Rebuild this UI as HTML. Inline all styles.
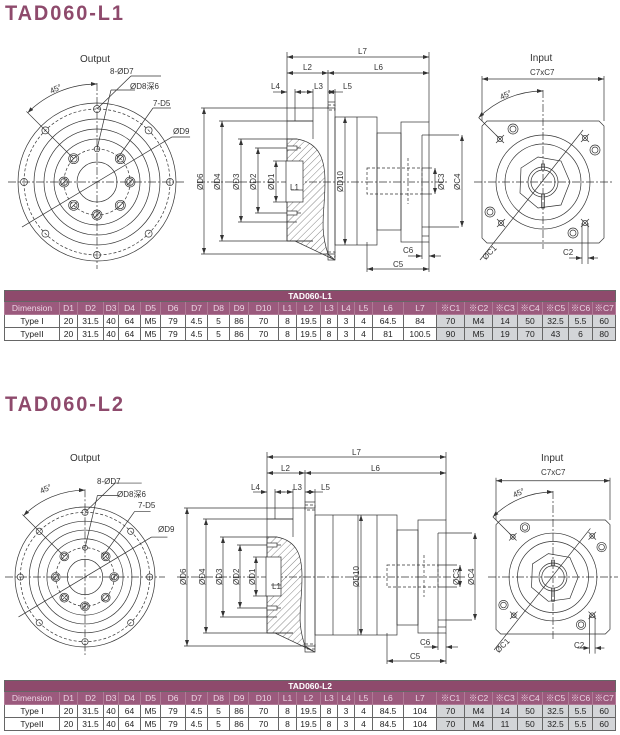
<!DOCTYPE html>
<html><head><meta charset="utf-8"><style>
body{margin:0;background:#fff;width:620px;height:735px;overflow:hidden;position:relative;font-family:"Liberation Sans","Noto Sans CJK SC",sans-serif}
.t{position:absolute;left:5px;font:bold 21px "Liberation Sans",sans-serif;color:#8e4a6c;letter-spacing:2px;transform:scaleX(0.95);transform-origin:left}
svg{position:absolute;left:0;top:0}
svg text{font-family:"Liberation Sans","Noto Sans CJK SC",sans-serif;fill:#333;font-size:8px}
table{position:absolute;left:4px;width:610px;border-collapse:collapse;table-layout:fixed;font-size:8.5px;text-align:center}
td{border:1px solid #666;padding:0;height:12px;line-height:11px;color:#222;white-space:nowrap;overflow:hidden}
tr.h1 td{background:#8e4a6c;color:#fff;font-weight:bold;height:10px;line-height:10px}
tr.h2 td{background:#9b5a7d;color:#ecd3e2;border-color:#b07a96}
td.g{background:#d3d5d8}
</style></head><body>
<div class="t" style="top:2px">TAD060-L1</div>
<div class="t" style="top:393px">TAD060-L2</div>
<svg id="s" width="620" height="735" viewBox="0 0 620 735">
<defs>
<marker id="a" markerWidth="6" markerHeight="4" refX="6" refY="2" orient="auto-start-reverse" markerUnits="userSpaceOnUse"><path d="M0,0L6,2L0,4z" fill="#333"/></marker>
<pattern id="hp" width="5" height="5" patternUnits="userSpaceOnUse" patternTransform="rotate(45)"><line x1="0" y1="0" x2="0" y2="5" stroke="#333" stroke-width="0.6"/></pattern>
</defs>
<g id="g" fill="none" stroke="#333" stroke-width="0.7"></g>
<text x="80" y="62" style="font-size:10px">Output</text>
<text x="110" y="74">8-ØD7</text>
<text x="130" y="89">ØD8深6</text>
<text x="153" y="106">7-D5</text>
<text x="173" y="134">ØD9</text>
<text x="50" y="92" transform="rotate(-25 55 90)">45°</text>
<text x="358" y="54">L7</text>
<text x="303" y="70">L2</text>
<text x="374" y="70">L6</text>
<text x="271" y="89">L4</text>
<text x="314" y="89">L3</text>
<text x="343" y="89">L5</text>
<text x="290" y="190">L1</text>
<text transform="translate(203,190) rotate(-90)">ØD6</text>
<text transform="translate(220,190) rotate(-90)">ØD4</text>
<text transform="translate(239,190) rotate(-90)">ØD3</text>
<text transform="translate(256,190) rotate(-90)">ØD2</text>
<text transform="translate(274,190) rotate(-90)">ØD1</text>
<text transform="translate(343,192) rotate(-90)">ØD10</text>
<text transform="translate(444,190) rotate(-90)">ØC3</text>
<text transform="translate(460,190) rotate(-90)">ØC4</text>
<text x="403" y="253">C6</text>
<text x="393" y="267">C5</text>
<text x="530" y="61" style="font-size:10px">Input</text>
<text x="530" y="75">C7xC7</text>
<text x="500" y="98" transform="rotate(-25 505 96)">45°</text>
<text x="483" y="258" transform="rotate(-45 487 256)">ØC1</text>
<text x="563" y="255">C2</text>
<text x="70" y="461" style="font-size:10px">Output</text>
<text x="97" y="484">8-ØD7</text>
<text x="117" y="497">ØD8深6</text>
<text x="138" y="508">7-D5</text>
<text x="158" y="532">ØD9</text>
<text x="40" y="492" transform="rotate(-25 45 490)">45°</text>
<text x="352" y="455">L7</text>
<text x="281" y="471">L2</text>
<text x="371" y="471">L6</text>
<text x="251" y="490">L4</text>
<text x="293" y="490">L3</text>
<text x="321" y="490">L5</text>
<text x="272" y="589">L1</text>
<text transform="translate(186,585) rotate(-90)">ØD6</text>
<text transform="translate(205,585) rotate(-90)">ØD4</text>
<text transform="translate(222,585) rotate(-90)">ØD3</text>
<text transform="translate(239,585) rotate(-90)">ØD2</text>
<text transform="translate(255,585) rotate(-90)">ØD1</text>
<text transform="translate(359,587) rotate(-90)">ØD10</text>
<text transform="translate(459,585) rotate(-90)">ØC3</text>
<text transform="translate(474,585) rotate(-90)">ØC4</text>
<text x="420" y="645">C6</text>
<text x="410" y="659">C5</text>
<text x="541" y="461" style="font-size:10px">Input</text>
<text x="541" y="475">C7xC7</text>
<text x="513" y="496" transform="rotate(-25 518 494)">45°</text>
<text x="496" y="651" transform="rotate(-45 500 649)">ØC1</text>
<text x="574" y="648">C2</text>
</svg>

<table style="top:290px">
<colgroup><col style="width:55px"><col style="width:18px"><col style="width:26px"><col style="width:15px"><col style="width:22px"><col style="width:20px"><col style="width:25px"><col style="width:22px"><col style="width:22px"><col style="width:19px"><col style="width:30px"><col style="width:18px"><col style="width:24px"><col style="width:17px"><col style="width:17px"><col style="width:18px"><col style="width:31px"><col style="width:33px"><col style="width:28px"><col style="width:28px"><col style="width:25px"><col style="width:25px"><col style="width:26px"><col style="width:24px"><col style="width:23px"></colgroup>
<tr class="h1"><td colspan="25">TAD060-L1</td></tr>
<tr class="h2"><td>Dimension</td><td>D1</td><td>D2</td><td>D3</td><td>D4</td><td>D5</td><td>D6</td><td>D7</td><td>D8</td><td>D9</td><td>D10</td><td>L1</td><td>L2</td><td>L3</td><td>L4</td><td>L5</td><td>L6</td><td>L7</td><td>※C1</td><td>※C2</td><td>※C3</td><td>※C4</td><td>※C5</td><td>※C6</td><td>※C7</td></tr>
<tr><td>Type I</td><td>20</td><td>31.5</td><td>40</td><td>64</td><td>M5</td><td>79</td><td>4.5</td><td>5</td><td>86</td><td>70</td><td>8</td><td>19.5</td><td>8</td><td>3</td><td>4</td><td>64.5</td><td>84</td><td class="g">70</td><td class="g">M4</td><td class="g">14</td><td class="g">50</td><td class="g">32.5</td><td class="g">5.5</td><td class="g">60</td></tr>
<tr><td>TypeII</td><td>20</td><td>31.5</td><td>40</td><td>64</td><td>M5</td><td>79</td><td>4.5</td><td>5</td><td>86</td><td>70</td><td>8</td><td>19.5</td><td>8</td><td>3</td><td>4</td><td>81</td><td>100.5</td><td class="g">90</td><td class="g">M5</td><td class="g">19</td><td class="g">70</td><td class="g">43</td><td class="g">6</td><td class="g">80</td></tr>
</table>
<table style="top:680px">
<colgroup><col style="width:55px"><col style="width:18px"><col style="width:26px"><col style="width:15px"><col style="width:22px"><col style="width:20px"><col style="width:25px"><col style="width:22px"><col style="width:22px"><col style="width:19px"><col style="width:30px"><col style="width:18px"><col style="width:24px"><col style="width:17px"><col style="width:17px"><col style="width:18px"><col style="width:31px"><col style="width:33px"><col style="width:28px"><col style="width:28px"><col style="width:25px"><col style="width:25px"><col style="width:26px"><col style="width:24px"><col style="width:23px"></colgroup>
<tr class="h1"><td colspan="25">TAD060-L2</td></tr>
<tr class="h2"><td>Dimension</td><td>D1</td><td>D2</td><td>D3</td><td>D4</td><td>D5</td><td>D6</td><td>D7</td><td>D8</td><td>D9</td><td>D10</td><td>L1</td><td>L2</td><td>L3</td><td>L4</td><td>L5</td><td>L6</td><td>L7</td><td>※C1</td><td>※C2</td><td>※C3</td><td>※C4</td><td>※C5</td><td>※C6</td><td>※C7</td></tr>
<tr><td>Type I</td><td>20</td><td>31.5</td><td>40</td><td>64</td><td>M5</td><td>79</td><td>4.5</td><td>5</td><td>86</td><td>70</td><td>8</td><td>19.5</td><td>8</td><td>3</td><td>4</td><td>84.5</td><td>104</td><td class="g">70</td><td class="g">M4</td><td class="g">14</td><td class="g">50</td><td class="g">32.5</td><td class="g">5.5</td><td class="g">60</td></tr>
<tr><td>TypeII</td><td>20</td><td>31.5</td><td>40</td><td>64</td><td>M5</td><td>79</td><td>4.5</td><td>5</td><td>86</td><td>70</td><td>8</td><td>19.5</td><td>8</td><td>3</td><td>4</td><td>84.5</td><td>104</td><td class="g">70</td><td class="g">M4</td><td class="g">11</td><td class="g">50</td><td class="g">32.5</td><td class="g">5.5</td><td class="g">60</td></tr>
</table>
<script>
var G=document.getElementById('g'),o='';
function L(x1,y1,x2,y2,ex){o+='<line x1="'+x1+'" y1="'+y1+'" x2="'+x2+'" y2="'+y2+'" '+(ex||'')+'/>';}
function C(x,y,r,ex){o+='<circle cx="'+x+'" cy="'+y+'" r="'+r+'" '+(ex||'')+'/>';}
function P(d,ex){o+='<path d="'+d+'" '+(ex||'')+'/>';}
function R(x1,y1,x2,y2,ex){o+='<rect x="'+x1+'" y="'+y1+'" width="'+(x2-x1)+'" height="'+(y2-y1)+'" '+(ex||'')+'/>';}
var A='marker-start="url(#a)" marker-end="url(#a)"',D='stroke-dasharray="8 2 2 2"',DS='stroke-dasharray="3 2"';
function out(cx,cy,Rr){var s=Rr/79;
 C(cx,cy,Rr);C(cx,cy,73*s,DS);C(cx,cy,63*s);C(cx,cy,53*s);C(cx,cy,43*s);C(cx,cy,33*s,DS);C(cx,cy,20*s);
 L(cx-Rr-10,cy,cx+Rr+10,cy,D);L(cx,cy-Rr-20*s,cx,cy+Rr+8,D);
 for(var i=0;i<8;i++){var a=i*Math.PI/4;var x=cx+73*s*Math.sin(a),y=cy-73*s*Math.cos(a);C(x,y,3.5*s);
  var x2=cx+33*s*Math.sin(a),y2=cy-33*s*Math.cos(a);if(i==0){C(x2,y2,2.8*s);}else{C(x2,y2,5*s);C(x2,y2,3.4*s);L(x2-3*s,y2+3*s,x2+3*s,y2-3*s);}}
 var k=98*s;P('M'+cx+','+(cy-k)+' A'+k+','+k+' 0 0 0 '+(cx-k*0.707)+','+(cy-k*0.707),A);
 L(cx-33*s*0.707,cy-33*s*0.707,cx-k*0.72,cy-k*0.72);
 L(cx-Rr*0.95,cy+Rr*0.57,cx+Rr*0.95,cy-Rr*0.57);L(cx+Rr*0.95,cy-Rr*0.57,cx+Rr*0.95+18*s,cy-Rr*0.57);
 L(cx,cy-33*s,cx+14*s,cy-92*s);L(cx+14*s,cy-92*s,cx+38*s,cy-92*s);
 L(cx,cy-73*s,cx+34*s,cy-106*s);L(cx+34*s,cy-106*s,cx+64*s,cy-106*s);
 L(cx+20*s,cy-23*s,cx+56*s,cy-74*s);L(cx+56*s,cy-74*s,cx+74*s,cy-74*s);}
out(97,182,79);out(85,577,70);
function inp(cx,cy,h){var s=h/61,c=5*s;
 P('M'+(cx-h+c)+','+(cy-h)+'H'+(cx+h-c)+'L'+(cx+h)+','+(cy-h+c)+'V'+(cy+h-c)+'L'+(cx+h-c)+','+(cy+h)+'H'+(cx-h+c)+'L'+(cx-h)+','+(cy+h-c)+'V'+(cy-h+c)+'Z');
 C(cx,cy,47*s);C(cx,cy,38*s);C(cx,cy,15*s);C(cx,cy,12*s);
 P('M'+(cx-22*s)+','+(cy-14*s)+'L'+(cx-5*s)+','+(cy-25*s)+'L'+(cx+18*s)+','+(cy-21*s)+'L'+(cx+27*s)+','+(cy)+'L'+(cx+18*s)+','+(cy+23*s)+'L'+(cx-5*s)+','+(cy+26*s)+'L'+(cx-23*s)+','+(cy+11*s)+'Z');
 R(cx-1.5*s,cy+12*s,cx+1.5*s,cy+26*s);R(cx-1.5*s,cy-18*s,cx+1.5*s,cy-12*s);
 [[-30,-53],[52,-32],[-53,30],[30,51]].forEach(function(p){C(cx+p[0]*s,cy+p[1]*s,5*s);C(cx+p[0]*s,cy+p[1]*s,3*s);});
 [[-43,-43],[42,-44],[-42,41],[42,41]].forEach(function(p){var x=cx+p[0]*s,y=cy+p[1]*s;C(x,y,2.6*s);L(x-4*s,y-4*s,x+4*s,y+4*s);L(x-4*s,y+4*s,x+4*s,y-4*s);});
 L(cx-h-8,cy,cx+h+8,cy,D);L(cx,cy-92*s,cx,cy+h+6,D);
 var ty=cy-h-42*s;L(cx-h,ty-3,cx-h,cy-h);L(cx+h,ty-3,cx+h,cy-h);L(cx-h,ty,cx+h,ty,A);
 var k=91*s;P('M'+cx+','+(cy-k)+' A'+k+','+k+' 0 0 0 '+(cx-k*0.707)+','+(cy-k*0.707),A);L(cx-k*0.707,cy-k*0.707,cx-43*s,cy-43*s);
 L(cx-63*s,cy+78*s,cx+40*s,cy-52*s);
 L(cx+39*s,cy+41*s,cx+39*s,cy+82*s);L(cx+45*s,cy+41*s,cx+45*s,cy+82*s);L(cx+26*s,cy+76*s,cx+39*s,cy+76*s,'marker-end="url(#a)"');L(cx+55*s,cy+76*s,cx+45*s,cy+76*s,'marker-end="url(#a)"');}
inp(543,182,61);inp(553,577,57);
function vd(x,y1,y2,fx){L(x,y1,x,y2,A);L(x-3,y1,fx,y1);L(x-3,y2,fx,y2);}
function hd(y,x1,x2){L(x1,y,x2,y,A);}
function side(q){var cy=q.cy;
 L(q.x0-90,cy,q.x7+20,cy,D);
 hd(q.yL7,q.x0,q.x7);hd(q.yL2,q.x0,q.xf);hd(q.yL2,q.xf,q.x7);
 L(q.x0,q.yL7-5,q.x0,q.top4);L(q.x7,q.yL7-5,q.x7,q.fT);L(q.xf,q.yL2-3,q.xf,q.pT);
 L(q.x0-14,q.yL3,q.x0,q.yL3,'marker-end="url(#a)"');L(q.x4+10,q.yL3,q.x4,q.yL3,'marker-end="url(#a)"');L(q.x4,q.yL3-3,q.x4,q.top4);
 L(q.x3-12,q.yL3,q.x3,q.yL3,'marker-end="url(#a)"');L(q.x3,q.yL3-3,q.x3,q.top4);L(q.xf,q.yL3,q.xp,q.yL3,A);L(q.xp,q.yL3,q.xp+8,q.yL3);L(q.xp,q.yL3-3,q.xp,q.pT);
 vd(q.d6x,q.pT+6,q.pB-6,q.xp);vd(q.d4x,q.top4,q.bot4,q.x3);vd(q.d3x,q.d3t,q.d3b,q.x0+10);vd(q.d2x,q.d2t,q.d2b,q.x0+14);vd(q.d1x,q.d1t,q.d1b,q.x0);
 L(q.x0,q.top4,q.x0,q.bot4);L(q.x0,q.top4,q.x3,q.top4);L(q.x0,q.bot4,q.x3,q.bot4);L(q.x3,q.top4,q.x3,q.d3t);
 var hx=q.xf-3;P('M'+q.x0+','+q.d3t+' L'+(q.x0+10)+','+q.d3t+' C'+(hx-4)+','+(q.d3t+4)+' '+hx+','+(cy-20)+' '+hx+','+cy+' C'+hx+','+(cy+30)+' '+(hx-6)+','+(q.bot4-14)+' '+(q.xf)+','+(q.pB-6)+' L'+q.xp+','+q.pB+' L'+(q.x0+8)+','+q.bot4+' L'+q.x0+','+q.bot4+' Z','fill="url(#hp)"');
 R(q.x0-1,q.d1t,q.x0+q.bw,q.d1b,'fill="#fff"');L(q.x0+4,cy+8,q.x0+q.bw,cy+8);
 R(q.x0,q.d2t-2,q.x0+10,q.d2t+2,'fill="#fff"');R(q.x0,q.d2b-2,q.x0+10,q.d2b+2,'fill="#fff"');
 R(q.xf,q.pT,q.xp,q.pB);R(q.xf,q.pT+3,q.xp,q.pT+8,DS);R(q.xf,q.pB-8,q.xp,q.pB-3,DS);
 R(q.xp,q.bT,q.bx,q.bB);q.bl.forEach(function(x){L(x,q.bT,x,q.bB);});
 R(q.bx,q.nT,q.fx,q.nB);R(q.fx,q.fT,q.x7,q.fB);L(q.st,q.c4t,q.x7,q.c4t);L(q.st,q.c4b,q.x7,q.c4b);L(q.st,q.c4t,q.st,q.c4b);L(q.st,q.fB-6,q.x7,q.fB-6);
 R(q.c5x,q.c3t,q.st,q.c3b,DS);L(q.st-14,q.c3t-10,q.st-14,q.c3b+10,DS);
 L(q.dx10,q.bT,q.dx10,q.bB,A);
 vd(q.c3x,q.c3t,q.c3b,q.st);vd(q.c4x,q.c4t,q.c4b,q.x7);
 L(q.c5x,q.fB,q.c5x,q.yC5+3);L(q.x7,q.fB,q.x7,q.yC5+3);hd(q.yC5,q.c5x,q.x7);
 L(q.st,q.c4b,q.st,q.yC6+3);L(q.st-14,q.yC6,q.st,q.yC6,'marker-end="url(#a)"');L(q.x7+12,q.yC6,q.x7,q.yC6,'marker-end="url(#a)"');}
side({cy:182,x0:287,x4:295,x3:313,xf:328,xp:335,x7:429,yL7:57,yL2:73,yL3:92,top4:121,bot4:241,pT:102,pB:260,
 d6x:204,d4x:222,d3x:241,d3t:139,d3b:222,d2x:258,d2t:148,d2b:213,d1x:276,d1t:161,d1b:202,bw:16,
 bT:117,bB:245,bl:[357],bx:377,nT:133,nB:230,fx:401,fT:122,fB:242,st:422,c4t:135,c4b:227,c3t:168,c3b:194,c5x:367,dx10:345,c3x:435,c4x:462,yC5:269,yC6:256});
side({cy:577,x0:267,x4:275,x3:293,xf:305,xp:315,x7:446,yL7:457,yL2:473,yL3:492,top4:519,bot4:633,pT:502,pB:652,
 d6x:187,d4x:206,d3x:223,d3t:537,d3b:617,d2x:240,d2t:545,d2b:608,d1x:256,d1t:557,d1b:596,bw:14,
 bT:515,bB:635,bl:[333,358,377],bx:397,nT:530,nB:625,fx:418,fT:520,fB:633,st:438,c4t:533,c4b:620,c3t:565,c3b:587,c5x:387,dx10:361,c3x:460,c4x:475,yC5:661,yC6:647});
G.innerHTML=o;
</script>
</body></html>
